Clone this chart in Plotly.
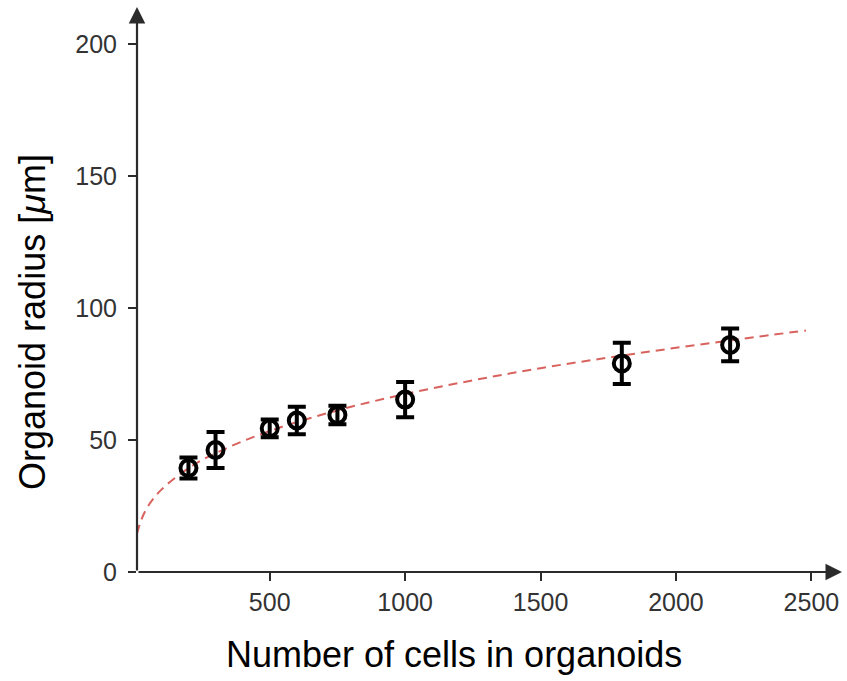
import plotly.graph_objects as go

cells = [200, 300, 500, 600, 750, 1000, 1800, 2200]
radius = [39.4, 46.2, 54.4, 57.4, 59.5, 65.3, 79.0, 86.0]
radius_err = [4.0, 6.8, 3.4, 5.2, 3.5, 6.7, 7.8, 6.2]

# Dashed fit curve
fit_cells = [10, 25, 50, 100, 200, 300, 500, 750, 1000, 1250, 1500, 1750, 2000, 2250, 2480]
fit_radius = [14.5, 19.5, 24.8, 31.2, 39.3, 45.0, 53.4, 61.2, 67.4, 72.6, 77.2, 81.2, 84.9, 88.4, 91.5]

x_ticks = [500, 1000, 1500, 2000, 2500]
y_ticks = [0, 50, 100, 150, 200]

FONT = "Liberation Sans, Arial, Helvetica, sans-serif"
AXIS_COLOR = "#2b2b2b"

fig = go.Figure()

fig.add_trace(go.Scatter(
    x=fit_cells, y=fit_radius, mode="lines", line_shape="spline",
    line=dict(color="#d8625e", width=2, dash="9px,6px"),
    hoverinfo="skip", showlegend=False,
))

fig.add_trace(go.Scatter(
    x=cells, y=radius, mode="markers",
    marker=dict(symbol="circle-open", size=16, color="black", line=dict(width=4, color="black")),
    error_y=dict(type="data", array=radius_err, visible=True, color="black", thickness=4, width=9),
    showlegend=False,
))

X0, X1 = 10, 2613
Y0, Y1 = 0, 214

# Axis arrows
for (x, y) in [(X1, 0), (X0, Y1)]:
    fig.add_annotation(x=x, y=y, ax=X0, ay=0, xref="x", yref="y", axref="x", ayref="y",
                       showarrow=True, arrowhead=2, arrowsize=1.5, arrowwidth=2.2,
                       arrowcolor=AXIS_COLOR, standoff=0, text="")

# Axis titles
fig.add_annotation(text="Number of cells in organoids", xref="paper", yref="paper",
                   x=0.4496, y=-0.146, xanchor="center", yanchor="middle", showarrow=False,
                   font=dict(family=FONT, size=36, color="black"))
fig.add_annotation(text="Organoid radius [<i>μ</i>m]", xref="paper", yref="paper",
                   x=-0.1475, y=0.4425, xanchor="center", yanchor="middle", showarrow=False,
                   textangle=-90, font=dict(family=FONT, size=36, color="black"))

fig.update_layout(
    width=847, height=681, autosize=False,
    margin=dict(l=137, r=5, t=7, b=109),
    paper_bgcolor="white", plot_bgcolor="white",
    font=dict(family=FONT),
)
fig.update_xaxes(range=[X0, X1], tickvals=x_ticks, ticktext=[str(v) for v in x_ticks],
                 showgrid=False, zeroline=False, showline=False,
                 ticks="outside", ticklen=8, tickwidth=2, tickcolor=AXIS_COLOR,
                 tickfont=dict(family=FONT, size=25, color="#333333"))
fig.update_yaxes(range=[Y0, Y1], tickvals=y_ticks, ticktext=[str(v) for v in y_ticks],
                 showgrid=False, zeroline=False, showline=False,
                 ticks="outside", ticklen=8, tickwidth=2, tickcolor=AXIS_COLOR,
                 ticklabelstandoff=6,
                 tickfont=dict(family=FONT, size=25, color="#333333"))

fig.write_html("out.html", config={"displayModeBar": False},
               post_script="document.body.style.margin='0';")
